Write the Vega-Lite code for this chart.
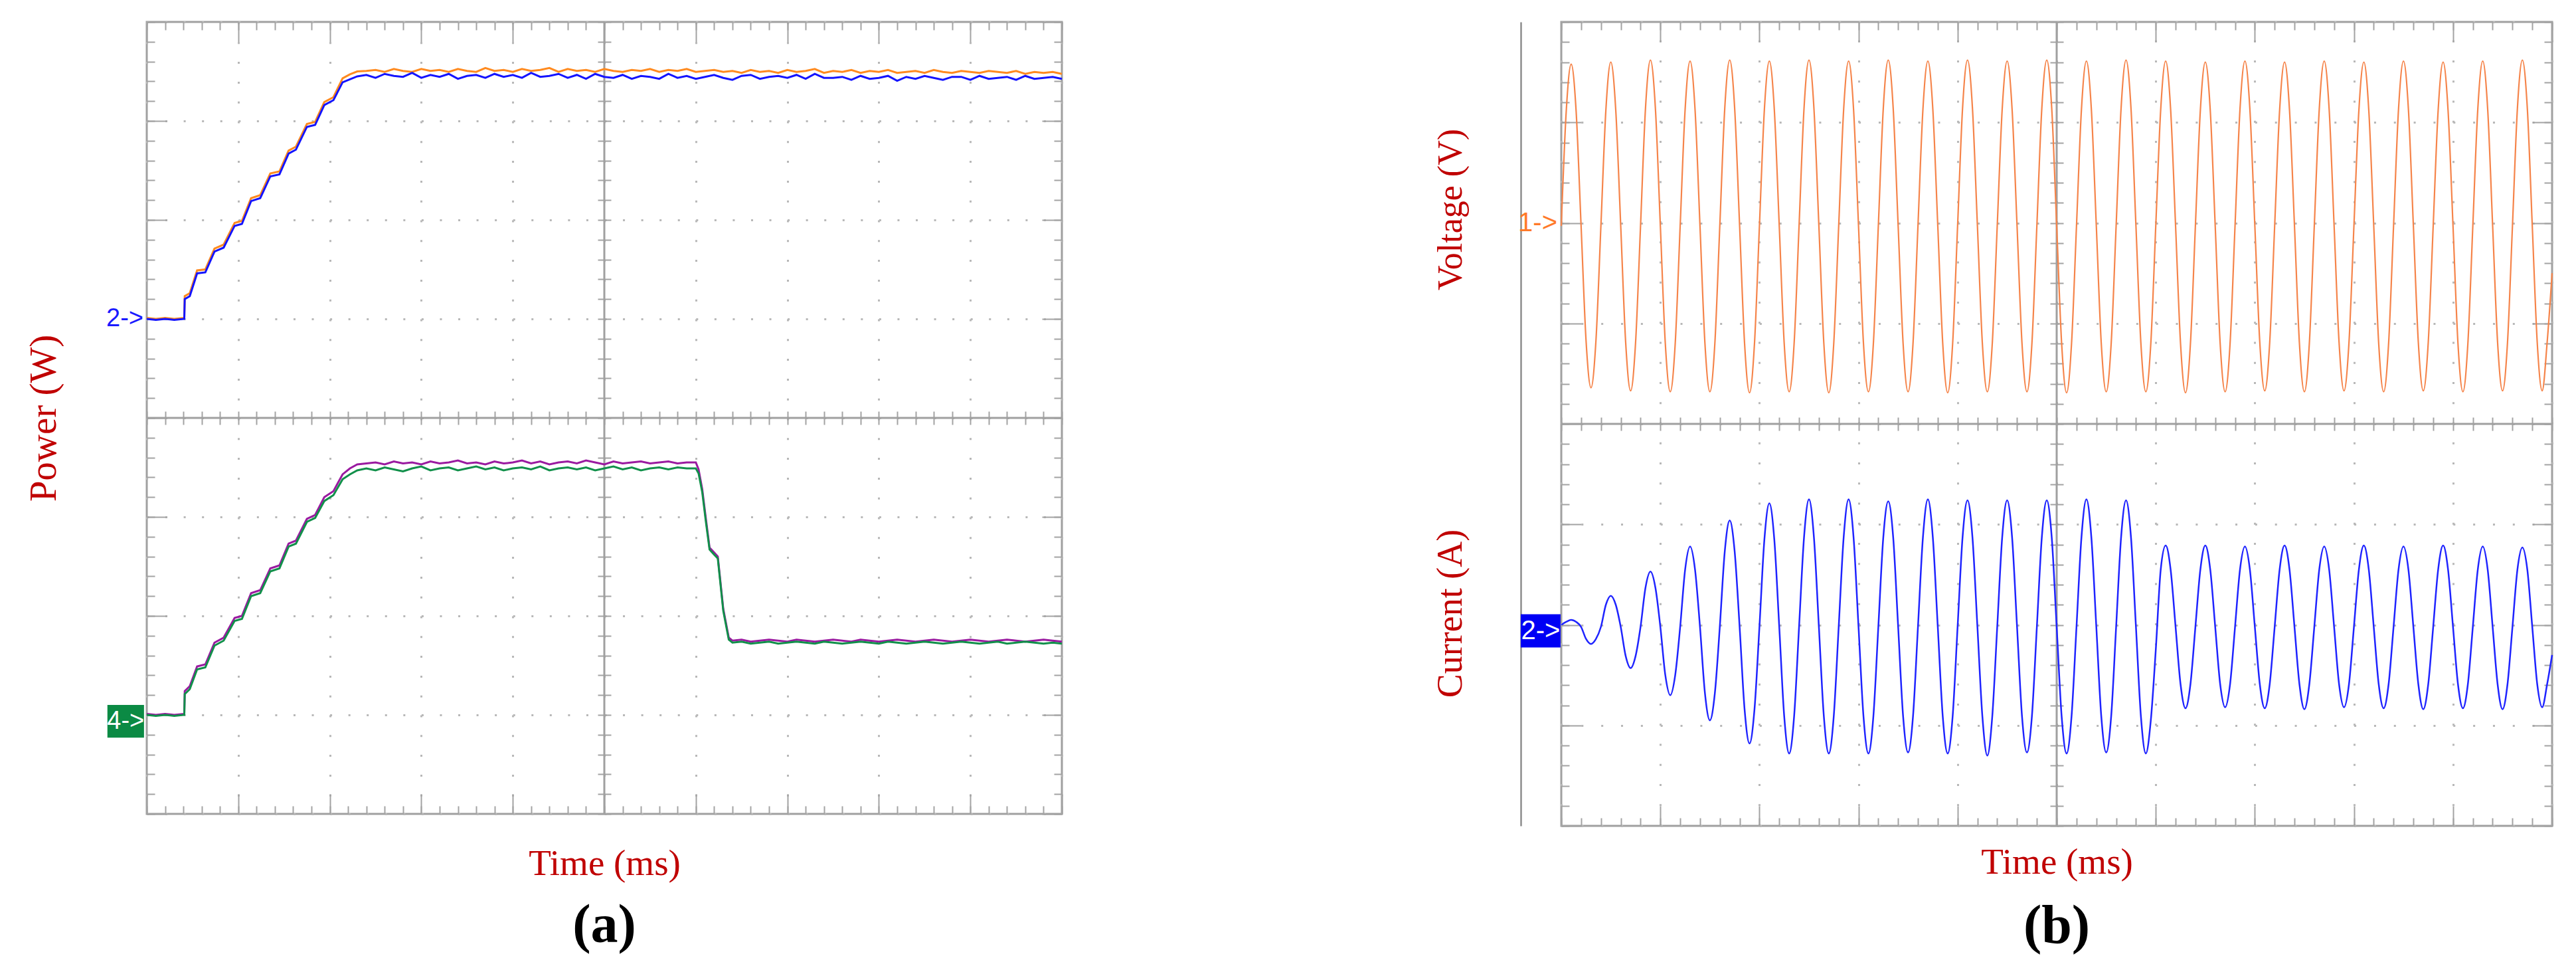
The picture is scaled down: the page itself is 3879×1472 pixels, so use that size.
{
"$schema": "https://vega.github.io/schema/vega-lite/v6.json",
"background": "white",
"padding": {"left": 35, "top": 30, "right": 10, "bottom": 10},
"bounds": "flush",
"spacing": 752,
"config": {
 "view": {"stroke": "#a0a0a0", "strokeWidth": 3},
 "axis": {"labels": false, "domain": false, "grid": false, "ticks": true, "tickColor": "#a3a3a3", "tickWidth": 2, "minExtent": 0, "maxExtent": 0, "titleFont": "Liberation Serif", "titleFontSize": 52, "titleFontWeight": "normal", "titleColor": "#c00000", "gridColor": "#b8b8b8", "gridWidth": 3}
},
"datasets": {
 "p1": [{"t":0,"v":1.01},{"t":0.1,"v":1.0},{"t":0.2,"v":1.01},{"t":0.3,"v":1.0},{"t":0.41,"v":1.01},{"t":0.415,"v":1.23},{"t":0.47,"v":1.26},{"t":0.55,"v":1.49},{"t":0.64,"v":1.5},{"t":0.74,"v":1.71},{"t":0.84,"v":1.75},{"t":0.96,"v":1.97},{"t":1.04,"v":1.99},{"t":1.14,"v":2.22},{"t":1.24,"v":2.25},{"t":1.35,"v":2.47},{"t":1.45,"v":2.49},{"t":1.55,"v":2.7},{"t":1.63,"v":2.74},{"t":1.75,"v":2.97},{"t":1.84,"v":2.99},{"t":1.94,"v":3.19},{"t":2.04,"v":3.24},{"t":2.14,"v":3.43},{"t":2.22,"v":3.47},{"t":2.3,"v":3.5},
  {"t":2.4,"v":3.505},{"t":2.5,"v":3.515},{"t":2.6,"v":3.495},{"t":2.7,"v":3.525},{"t":2.8,"v":3.505},{"t":2.9,"v":3.495},{"t":3.0,"v":3.525},{"t":3.1,"v":3.505},{"t":3.2,"v":3.515},{"t":3.3,"v":3.495},{"t":3.4,"v":3.525},{"t":3.5,"v":3.505},{"t":3.6,"v":3.495},{"t":3.7,"v":3.535},{"t":3.8,"v":3.505},{"t":3.9,"v":3.515},{"t":4.0,"v":3.495},{"t":4.1,"v":3.525},{"t":4.2,"v":3.505},{"t":4.3,"v":3.515},{"t":4.4,"v":3.535},{"t":4.5,"v":3.495},{"t":4.6,"v":3.525},{"t":4.7,"v":3.505},{"t":4.8,"v":3.515},{"t":4.9,"v":3.495},{"t":5.0,"v":3.525},{"t":5.1,"v":3.505},{"t":5.2,"v":3.495},{"t":5.3,"v":3.515},{"t":5.4,"v":3.505},{"t":5.5,"v":3.525},{"t":5.6,"v":3.495},{"t":5.7,"v":3.515},{"t":5.8,"v":3.505},{"t":5.9,"v":3.525},{"t":6.0,"v":3.495},{"t":6.1,"v":3.505},{"t":6.2,"v":3.515},{"t":6.3,"v":3.495},{"t":6.4,"v":3.505},{"t":6.5,"v":3.485},{"t":6.6,"v":3.515},{"t":6.7,"v":3.495},{"t":6.8,"v":3.505},{"t":6.9,"v":3.485},{"t":7.0,"v":3.515},{"t":7.1,"v":3.495},{"t":7.2,"v":3.505},{"t":7.3,"v":3.525},{"t":7.4,"v":3.485},{"t":7.5,"v":3.505},{"t":7.6,"v":3.495},{"t":7.7,"v":3.515},{"t":7.8,"v":3.485},{"t":7.9,"v":3.505},{"t":8.0,"v":3.495},{"t":8.1,"v":3.515},{"t":8.2,"v":3.485},{"t":8.3,"v":3.495},{"t":8.4,"v":3.505},{"t":8.5,"v":3.485},{"t":8.6,"v":3.515},{"t":8.7,"v":3.495},{"t":8.8,"v":3.485},{"t":8.9,"v":3.505},{"t":9.0,"v":3.495},{"t":9.1,"v":3.485},{"t":9.2,"v":3.505},{"t":9.3,"v":3.495},{"t":9.4,"v":3.485},{"t":9.5,"v":3.505},{"t":9.6,"v":3.475},{"t":9.7,"v":3.495},{"t":9.8,"v":3.485},{"t":9.9,"v":3.495},{"t":10.0,"v":3.475}],
 "p2": [{"t":0,"v":1.0},{"t":0.1,"v":0.99},{"t":0.2,"v":1.0},{"t":0.3,"v":0.99},{"t":0.41,"v":1.0},{"t":0.415,"v":1.2},{"t":0.47,"v":1.23},{"t":0.55,"v":1.46},{"t":0.64,"v":1.47},{"t":0.74,"v":1.68},{"t":0.84,"v":1.72},{"t":0.96,"v":1.94},{"t":1.04,"v":1.96},{"t":1.14,"v":2.19},{"t":1.24,"v":2.22},{"t":1.35,"v":2.44},{"t":1.45,"v":2.46},{"t":1.55,"v":2.67},{"t":1.63,"v":2.71},{"t":1.75,"v":2.94},{"t":1.84,"v":2.96},{"t":1.94,"v":3.16},{"t":2.04,"v":3.21},{"t":2.14,"v":3.39},{"t":2.22,"v":3.42},{"t":2.3,"v":3.45},
  {"t":2.4,"v":3.465},{"t":2.5,"v":3.435},{"t":2.6,"v":3.475},{"t":2.7,"v":3.455},{"t":2.8,"v":3.445},{"t":2.9,"v":3.485},{"t":3.0,"v":3.435},{"t":3.1,"v":3.465},{"t":3.2,"v":3.445},{"t":3.3,"v":3.475},{"t":3.4,"v":3.425},{"t":3.5,"v":3.455},{"t":3.6,"v":3.465},{"t":3.7,"v":3.435},{"t":3.8,"v":3.475},{"t":3.9,"v":3.445},{"t":4.0,"v":3.465},{"t":4.1,"v":3.435},{"t":4.2,"v":3.485},{"t":4.3,"v":3.445},{"t":4.4,"v":3.455},{"t":4.5,"v":3.475},{"t":4.6,"v":3.435},{"t":4.7,"v":3.465},{"t":4.8,"v":3.425},{"t":4.9,"v":3.475},{"t":5.0,"v":3.445},{"t":5.1,"v":3.435},{"t":5.2,"v":3.465},{"t":5.3,"v":3.425},{"t":5.4,"v":3.455},{"t":5.5,"v":3.445},{"t":5.6,"v":3.425},{"t":5.7,"v":3.475},{"t":5.8,"v":3.435},{"t":5.9,"v":3.455},{"t":6.0,"v":3.425},{"t":6.1,"v":3.445},{"t":6.2,"v":3.465},{"t":6.3,"v":3.435},{"t":6.4,"v":3.415},{"t":6.5,"v":3.455},{"t":6.6,"v":3.465},{"t":6.7,"v":3.425},{"t":6.8,"v":3.445},{"t":6.9,"v":3.455},{"t":7.0,"v":3.435},{"t":7.1,"v":3.465},{"t":7.2,"v":3.425},{"t":7.3,"v":3.475},{"t":7.4,"v":3.435},{"t":7.5,"v":3.435},{"t":7.6,"v":3.445},{"t":7.7,"v":3.415},{"t":7.8,"v":3.455},{"t":7.9,"v":3.425},{"t":8.0,"v":3.435},{"t":8.1,"v":3.455},{"t":8.2,"v":3.405},{"t":8.3,"v":3.445},{"t":8.4,"v":3.425},{"t":8.5,"v":3.455},{"t":8.6,"v":3.435},{"t":8.7,"v":3.415},{"t":8.8,"v":3.445},{"t":8.9,"v":3.445},{"t":9.0,"v":3.415},{"t":9.1,"v":3.455},{"t":9.2,"v":3.425},{"t":9.3,"v":3.435},{"t":9.4,"v":3.445},{"t":9.5,"v":3.415},{"t":9.6,"v":3.455},{"t":9.7,"v":3.425},{"t":9.8,"v":3.435},{"t":9.9,"v":3.445},{"t":10.0,"v":3.425}],
 "p3": [{"t":0,"v":-2.99},{"t":0.1,"v":-3.0},{"t":0.2,"v":-2.99},{"t":0.3,"v":-3.0},{"t":0.41,"v":-2.99},{"t":0.415,"v":-2.76},{"t":0.47,"v":-2.71},{"t":0.55,"v":-2.51},{"t":0.64,"v":-2.49},{"t":0.74,"v":-2.27},{"t":0.84,"v":-2.22},{"t":0.96,"v":-2.02},{"t":1.04,"v":-2.0},{"t":1.14,"v":-1.77},{"t":1.24,"v":-1.74},{"t":1.35,"v":-1.52},{"t":1.45,"v":-1.49},{"t":1.55,"v":-1.27},{"t":1.63,"v":-1.24},{"t":1.75,"v":-1.02},{"t":1.84,"v":-0.98},{"t":1.94,"v":-0.8},{"t":2.04,"v":-0.74},{"t":2.14,"v":-0.57},{"t":2.22,"v":-0.51},{"t":2.3,"v":-0.47},
  {"t":2.4,"v":-0.46},{"t":2.5,"v":-0.45},{"t":2.6,"v":-0.47},{"t":2.7,"v":-0.44},{"t":2.8,"v":-0.46},{"t":2.9,"v":-0.45},{"t":3.0,"v":-0.47},{"t":3.1,"v":-0.44},{"t":3.2,"v":-0.46},{"t":3.3,"v":-0.45},{"t":3.4,"v":-0.43},{"t":3.5,"v":-0.46},{"t":3.6,"v":-0.45},{"t":3.7,"v":-0.47},{"t":3.8,"v":-0.44},{"t":3.9,"v":-0.46},{"t":4.0,"v":-0.45},{"t":4.1,"v":-0.43},{"t":4.2,"v":-0.46},{"t":4.3,"v":-0.44},{"t":4.4,"v":-0.47},{"t":4.5,"v":-0.45},{"t":4.6,"v":-0.44},{"t":4.7,"v":-0.46},{"t":4.8,"v":-0.43},{"t":4.9,"v":-0.45},{"t":5.0,"v":-0.47},{"t":5.1,"v":-0.44},{"t":5.2,"v":-0.46},{"t":5.3,"v":-0.45},{"t":5.4,"v":-0.44},{"t":5.5,"v":-0.46},{"t":5.6,"v":-0.45},{"t":5.7,"v":-0.44},{"t":5.8,"v":-0.46},{"t":5.9,"v":-0.45},{"t":6.0,"v":-0.45},
  {"t":6.03,"v":-0.52},{"t":6.07,"v":-0.72},{"t":6.11,"v":-1.02},{"t":6.15,"v":-1.31},{"t":6.2,"v":-1.36},{"t":6.24,"v":-1.4},{"t":6.3,"v":-1.93},{"t":6.36,"v":-2.22},
  {"t":6.4,"v":-2.25},{"t":6.5,"v":-2.24},{"t":6.6,"v":-2.26},{"t":6.7,"v":-2.25},{"t":6.8,"v":-2.24},{"t":6.9,"v":-2.25},{"t":7.0,"v":-2.26},{"t":7.1,"v":-2.24},{"t":7.2,"v":-2.25},{"t":7.3,"v":-2.26},{"t":7.4,"v":-2.25},{"t":7.5,"v":-2.24},{"t":7.6,"v":-2.25},{"t":7.7,"v":-2.26},{"t":7.8,"v":-2.24},{"t":7.9,"v":-2.25},{"t":8.0,"v":-2.26},{"t":8.1,"v":-2.25},{"t":8.2,"v":-2.24},{"t":8.3,"v":-2.25},{"t":8.4,"v":-2.26},{"t":8.5,"v":-2.25},{"t":8.6,"v":-2.24},{"t":8.7,"v":-2.25},{"t":8.8,"v":-2.26},{"t":8.9,"v":-2.25},{"t":9.0,"v":-2.24},{"t":9.1,"v":-2.25},{"t":9.2,"v":-2.26},{"t":9.3,"v":-2.25},{"t":9.4,"v":-2.24},{"t":9.5,"v":-2.25},{"t":9.6,"v":-2.26},{"t":9.7,"v":-2.25},{"t":9.8,"v":-2.24},{"t":9.9,"v":-2.25},{"t":10.0,"v":-2.26}],
 "p4": [{"t":0,"v":-3.0},{"t":0.1,"v":-3.01},{"t":0.2,"v":-3.0},{"t":0.3,"v":-3.01},{"t":0.41,"v":-3.0},{"t":0.415,"v":-2.79},{"t":0.47,"v":-2.74},{"t":0.55,"v":-2.54},{"t":0.64,"v":-2.52},{"t":0.74,"v":-2.3},{"t":0.84,"v":-2.25},{"t":0.96,"v":-2.05},{"t":1.04,"v":-2.03},{"t":1.14,"v":-1.8},{"t":1.24,"v":-1.77},{"t":1.35,"v":-1.55},{"t":1.45,"v":-1.52},{"t":1.55,"v":-1.3},{"t":1.63,"v":-1.27},{"t":1.75,"v":-1.05},{"t":1.84,"v":-1.01},{"t":1.94,"v":-0.84},{"t":2.04,"v":-0.78},{"t":2.14,"v":-0.62},{"t":2.22,"v":-0.57},{"t":2.3,"v":-0.53},
  {"t":2.4,"v":-0.51},{"t":2.5,"v":-0.53},{"t":2.6,"v":-0.5},{"t":2.7,"v":-0.52},{"t":2.8,"v":-0.54},{"t":2.9,"v":-0.51},{"t":3.0,"v":-0.49},{"t":3.1,"v":-0.53},{"t":3.2,"v":-0.51},{"t":3.3,"v":-0.5},{"t":3.4,"v":-0.53},{"t":3.5,"v":-0.51},{"t":3.6,"v":-0.49},{"t":3.7,"v":-0.52},{"t":3.8,"v":-0.5},{"t":3.9,"v":-0.53},{"t":4.0,"v":-0.51},{"t":4.1,"v":-0.5},{"t":4.2,"v":-0.52},{"t":4.3,"v":-0.49},{"t":4.4,"v":-0.53},{"t":4.5,"v":-0.51},{"t":4.6,"v":-0.5},{"t":4.7,"v":-0.52},{"t":4.8,"v":-0.5},{"t":4.9,"v":-0.53},{"t":5.0,"v":-0.51},{"t":5.1,"v":-0.49},{"t":5.2,"v":-0.52},{"t":5.3,"v":-0.5},{"t":5.4,"v":-0.53},{"t":5.5,"v":-0.51},{"t":5.6,"v":-0.5},{"t":5.7,"v":-0.52},{"t":5.8,"v":-0.5},{"t":5.9,"v":-0.51},{"t":6.0,"v":-0.51},
  {"t":6.03,"v":-0.56},{"t":6.07,"v":-0.75},{"t":6.11,"v":-1.05},{"t":6.15,"v":-1.33},{"t":6.2,"v":-1.38},{"t":6.24,"v":-1.42},{"t":6.3,"v":-1.95},{"t":6.36,"v":-2.24},
  {"t":6.4,"v":-2.27},{"t":6.5,"v":-2.26},{"t":6.6,"v":-2.28},{"t":6.7,"v":-2.27},{"t":6.8,"v":-2.26},{"t":6.9,"v":-2.28},{"t":7.0,"v":-2.27},{"t":7.1,"v":-2.26},{"t":7.2,"v":-2.27},{"t":7.3,"v":-2.28},{"t":7.4,"v":-2.26},{"t":7.5,"v":-2.27},{"t":7.6,"v":-2.28},{"t":7.7,"v":-2.27},{"t":7.8,"v":-2.26},{"t":7.9,"v":-2.27},{"t":8.0,"v":-2.28},{"t":8.1,"v":-2.26},{"t":8.2,"v":-2.27},{"t":8.3,"v":-2.28},{"t":8.4,"v":-2.27},{"t":8.5,"v":-2.26},{"t":8.6,"v":-2.27},{"t":8.7,"v":-2.28},{"t":8.8,"v":-2.27},{"t":8.9,"v":-2.26},{"t":9.0,"v":-2.27},{"t":9.1,"v":-2.28},{"t":9.2,"v":-2.27},{"t":9.3,"v":-2.26},{"t":9.4,"v":-2.28},{"t":9.5,"v":-2.27},{"t":9.6,"v":-2.26},{"t":9.7,"v":-2.27},{"t":9.8,"v":-2.28},{"t":9.9,"v":-2.27},{"t":10.0,"v":-2.28}],
 "volt": [{"t":0,"v":1.97},{"t":0.05,"v":3.11},{"t":0.1,"v":3.58},{"t":0.15,"v":3.11},{"t":0.2,"v":1.97},{"t":0.25,"v":0.83},{"t":0.3,"v":0.36},{"t":0.35,"v":0.83},
  {"t":0.4,"v":1.97},{"t":0.45,"v":3.12},{"t":0.5,"v":3.6},{"t":0.55,"v":3.12},{"t":0.6,"v":1.97},{"t":0.65,"v":0.81},{"t":0.7,"v":0.33},{"t":0.75,"v":0.81},
  {"t":0.8,"v":1.97},{"t":0.85,"v":3.14},{"t":0.9,"v":3.62},{"t":0.95,"v":3.14},{"t":1.0,"v":1.97},{"t":1.05,"v":0.8},{"t":1.1,"v":0.32},{"t":1.15,"v":0.8},
  {"t":1.2,"v":1.97},{"t":1.25,"v":3.13},{"t":1.3,"v":3.61},{"t":1.35,"v":3.13},{"t":1.4,"v":1.97},{"t":1.45,"v":0.8},{"t":1.5,"v":0.32},{"t":1.55,"v":0.8},
  {"t":1.6,"v":1.97},{"t":1.65,"v":3.14},{"t":1.7,"v":3.62},{"t":1.75,"v":3.14},{"t":1.8,"v":1.97},{"t":1.85,"v":0.8},{"t":1.9,"v":0.31},{"t":1.95,"v":0.8},
  {"t":2.0,"v":1.97},{"t":2.05,"v":3.13},{"t":2.1,"v":3.61},{"t":2.15,"v":3.13},{"t":2.2,"v":1.97},{"t":2.25,"v":0.8},{"t":2.3,"v":0.32},{"t":2.35,"v":0.8},
  {"t":2.4,"v":1.97},{"t":2.45,"v":3.14},{"t":2.5,"v":3.62},{"t":2.55,"v":3.14},{"t":2.6,"v":1.97},{"t":2.65,"v":0.8},{"t":2.7,"v":0.31},{"t":2.75,"v":0.8},
  {"t":2.8,"v":1.97},{"t":2.85,"v":3.13},{"t":2.9,"v":3.61},{"t":2.95,"v":3.13},{"t":3.0,"v":1.97},{"t":3.05,"v":0.8},{"t":3.1,"v":0.32},{"t":3.15,"v":0.8},
  {"t":3.2,"v":1.97},{"t":3.25,"v":3.14},{"t":3.3,"v":3.62},{"t":3.35,"v":3.14},{"t":3.4,"v":1.97},{"t":3.45,"v":0.8},{"t":3.5,"v":0.32},{"t":3.55,"v":0.8},
  {"t":3.6,"v":1.97},{"t":3.65,"v":3.13},{"t":3.7,"v":3.61},{"t":3.75,"v":3.13},{"t":3.8,"v":1.97},{"t":3.85,"v":0.8},{"t":3.9,"v":0.31},{"t":3.95,"v":0.8},
  {"t":4.0,"v":1.97},{"t":4.05,"v":3.14},{"t":4.1,"v":3.62},{"t":4.15,"v":3.14},{"t":4.2,"v":1.97},{"t":4.25,"v":0.8},{"t":4.3,"v":0.32},{"t":4.35,"v":0.8},
  {"t":4.4,"v":1.97},{"t":4.45,"v":3.13},{"t":4.5,"v":3.61},{"t":4.55,"v":3.13},{"t":4.6,"v":1.97},{"t":4.65,"v":0.8},{"t":4.7,"v":0.32},{"t":4.75,"v":0.8},
  {"t":4.8,"v":1.97},{"t":4.85,"v":3.14},{"t":4.9,"v":3.62},{"t":4.95,"v":3.14},{"t":5.0,"v":1.97},{"t":5.05,"v":0.8},{"t":5.1,"v":0.31},{"t":5.15,"v":0.8},
  {"t":5.2,"v":1.97},{"t":5.25,"v":3.13},{"t":5.3,"v":3.61},{"t":5.35,"v":3.13},{"t":5.4,"v":1.97},{"t":5.45,"v":0.8},{"t":5.5,"v":0.32},{"t":5.55,"v":0.8},
  {"t":5.6,"v":1.97},{"t":5.65,"v":3.14},{"t":5.7,"v":3.62},{"t":5.75,"v":3.14},{"t":5.8,"v":1.97},{"t":5.85,"v":0.8},{"t":5.9,"v":0.32},{"t":5.95,"v":0.8},
  {"t":6.0,"v":1.97},{"t":6.05,"v":3.13},{"t":6.1,"v":3.61},{"t":6.15,"v":3.13},{"t":6.2,"v":1.97},{"t":6.25,"v":0.8},{"t":6.3,"v":0.31},{"t":6.35,"v":0.8},
  {"t":6.4,"v":1.97},{"t":6.45,"v":3.12},{"t":6.5,"v":3.6},{"t":6.55,"v":3.12},{"t":6.6,"v":1.97},{"t":6.65,"v":0.8},{"t":6.7,"v":0.32},{"t":6.75,"v":0.8},
  {"t":6.8,"v":1.97},{"t":6.85,"v":3.13},{"t":6.9,"v":3.61},{"t":6.95,"v":3.13},{"t":7.0,"v":1.97},{"t":7.05,"v":0.81},{"t":7.1,"v":0.33},{"t":7.15,"v":0.81},
  {"t":7.2,"v":1.97},{"t":7.25,"v":3.12},{"t":7.3,"v":3.6},{"t":7.35,"v":3.12},{"t":7.4,"v":1.97},{"t":7.45,"v":0.8},{"t":7.5,"v":0.32},{"t":7.55,"v":0.8},
  {"t":7.6,"v":1.97},{"t":7.65,"v":3.13},{"t":7.7,"v":3.61},{"t":7.75,"v":3.13},{"t":7.8,"v":1.97},{"t":7.85,"v":0.81},{"t":7.9,"v":0.33},{"t":7.95,"v":0.81},
  {"t":8.0,"v":1.97},{"t":8.05,"v":3.12},{"t":8.1,"v":3.6},{"t":8.15,"v":3.12},{"t":8.2,"v":1.97},{"t":8.25,"v":0.8},{"t":8.3,"v":0.32},{"t":8.35,"v":0.8},
  {"t":8.4,"v":1.97},{"t":8.45,"v":3.13},{"t":8.5,"v":3.61},{"t":8.55,"v":3.13},{"t":8.6,"v":1.97},{"t":8.65,"v":0.81},{"t":8.7,"v":0.33},{"t":8.75,"v":0.81},
  {"t":8.8,"v":1.97},{"t":8.85,"v":3.12},{"t":8.9,"v":3.6},{"t":8.95,"v":3.12},{"t":9.0,"v":1.97},{"t":9.05,"v":0.8},{"t":9.1,"v":0.32},{"t":9.15,"v":0.8},
  {"t":9.2,"v":1.97},{"t":9.25,"v":3.13},{"t":9.3,"v":3.61},{"t":9.35,"v":3.13},{"t":9.4,"v":1.97},{"t":9.45,"v":0.81},{"t":9.5,"v":0.33},{"t":9.55,"v":0.81},
  {"t":9.6,"v":1.97},{"t":9.65,"v":3.14},{"t":9.7,"v":3.62},{"t":9.75,"v":3.14},{"t":9.8,"v":1.97},{"t":9.85,"v":0.81},{"t":9.9,"v":0.33},{"t":9.95,"v":0.81},
  {"t":10.0,"v":1.5}],
 "curr": [{"t":0,"v":-2.0},{"t":0.05,"v":-1.97},{"t":0.1,"v":-1.95},{"t":0.15,"v":-1.97},{"t":0.2,"v":-2.02},{"t":0.25,"v":-2.14},{"t":0.3,"v":-2.19},{"t":0.35,"v":-2.14},
  {"t":0.4,"v":-2.02},{"t":0.45,"v":-1.8},{"t":0.5,"v":-1.71},{"t":0.55,"v":-1.8},{"t":0.6,"v":-2.02},{"t":0.65,"v":-2.31},{"t":0.7,"v":-2.43},{"t":0.75,"v":-2.31},
  {"t":0.8,"v":-2.02},{"t":0.85,"v":-1.63},{"t":0.9,"v":-1.47},{"t":0.95,"v":-1.63},{"t":1.0,"v":-2.02},{"t":1.05,"v":-2.5},{"t":1.1,"v":-2.7},{"t":1.15,"v":-2.5},
  {"t":1.2,"v":-2.02},{"t":1.25,"v":-1.45},{"t":1.3,"v":-1.22},{"t":1.35,"v":-1.45},{"t":1.4,"v":-2.02},{"t":1.45,"v":-2.68},{"t":1.5,"v":-2.95},{"t":1.55,"v":-2.68},
  {"t":1.6,"v":-2.02},{"t":1.65,"v":-1.27},{"t":1.7,"v":-0.96},{"t":1.75,"v":-1.27},{"t":1.8,"v":-2.02},{"t":1.85,"v":-2.84},{"t":1.9,"v":-3.18},{"t":1.95,"v":-2.84},
  {"t":2.0,"v":-2.02},{"t":2.05,"v":-1.15},{"t":2.1,"v":-0.79},{"t":2.15,"v":-1.15},{"t":2.2,"v":-2.02},{"t":2.25,"v":-2.91},{"t":2.3,"v":-3.28},{"t":2.35,"v":-2.91},
  {"t":2.4,"v":-2.02},{"t":2.45,"v":-1.13},{"t":2.5,"v":-0.75},{"t":2.55,"v":-1.13},{"t":2.6,"v":-2.02},{"t":2.65,"v":-2.91},{"t":2.7,"v":-3.28},{"t":2.75,"v":-2.91},
  {"t":2.8,"v":-2.02},{"t":2.85,"v":-1.13},{"t":2.9,"v":-0.75},{"t":2.95,"v":-1.13},{"t":3.0,"v":-2.02},{"t":3.05,"v":-2.91},{"t":3.1,"v":-3.28},{"t":3.15,"v":-2.91},
  {"t":3.2,"v":-2.02},{"t":3.25,"v":-1.13},{"t":3.3,"v":-0.77},{"t":3.35,"v":-1.13},{"t":3.4,"v":-2.02},{"t":3.45,"v":-2.91},{"t":3.5,"v":-3.27},{"t":3.55,"v":-2.91},
  {"t":3.6,"v":-2.02},{"t":3.65,"v":-1.13},{"t":3.7,"v":-0.75},{"t":3.75,"v":-1.13},{"t":3.8,"v":-2.02},{"t":3.85,"v":-2.91},{"t":3.9,"v":-3.28},{"t":3.95,"v":-2.91},
  {"t":4.0,"v":-2.02},{"t":4.05,"v":-1.13},{"t":4.1,"v":-0.76},{"t":4.15,"v":-1.13},{"t":4.2,"v":-2.02},{"t":4.25,"v":-2.91},{"t":4.3,"v":-3.3},{"t":4.35,"v":-2.91},
  {"t":4.4,"v":-2.02},{"t":4.45,"v":-1.13},{"t":4.5,"v":-0.76},{"t":4.55,"v":-1.13},{"t":4.6,"v":-2.02},{"t":4.65,"v":-2.91},{"t":4.7,"v":-3.27},{"t":4.75,"v":-2.91},
  {"t":4.8,"v":-2.02},{"t":4.85,"v":-1.13},{"t":4.9,"v":-0.76},{"t":4.95,"v":-1.13},{"t":5.0,"v":-2.02},{"t":5.05,"v":-2.91},{"t":5.1,"v":-3.28},{"t":5.15,"v":-2.91},
  {"t":5.2,"v":-2.02},{"t":5.25,"v":-1.13},{"t":5.3,"v":-0.75},{"t":5.35,"v":-1.13},{"t":5.4,"v":-2.02},{"t":5.45,"v":-2.91},{"t":5.5,"v":-3.27},{"t":5.55,"v":-2.91},
  {"t":5.6,"v":-2.02},{"t":5.65,"v":-1.13},{"t":5.7,"v":-0.76},{"t":5.75,"v":-1.13},{"t":5.8,"v":-2.02},{"t":5.85,"v":-2.91},{"t":5.9,"v":-3.28},{"t":5.95,"v":-2.95},
  {"t":6.0,"v":-2.25},{"t":6.05,"v":-1.45},{"t":6.1,"v":-1.21},{"t":6.15,"v":-1.45},{"t":6.2,"v":-2.02},{"t":6.25,"v":-2.59},{"t":6.3,"v":-2.83},{"t":6.35,"v":-2.59},
  {"t":6.4,"v":-2.02},{"t":6.45,"v":-1.45},{"t":6.5,"v":-1.21},{"t":6.55,"v":-1.45},{"t":6.6,"v":-2.02},{"t":6.65,"v":-2.59},{"t":6.7,"v":-2.82},{"t":6.75,"v":-2.59},
  {"t":6.8,"v":-2.02},{"t":6.85,"v":-1.45},{"t":6.9,"v":-1.22},{"t":6.95,"v":-1.45},{"t":7.0,"v":-2.02},{"t":7.05,"v":-2.59},{"t":7.1,"v":-2.83},{"t":7.15,"v":-2.59},
  {"t":7.2,"v":-2.02},{"t":7.25,"v":-1.45},{"t":7.3,"v":-1.21},{"t":7.35,"v":-1.45},{"t":7.4,"v":-2.02},{"t":7.45,"v":-2.59},{"t":7.5,"v":-2.84},{"t":7.55,"v":-2.59},
  {"t":7.6,"v":-2.02},{"t":7.65,"v":-1.45},{"t":7.7,"v":-1.22},{"t":7.75,"v":-1.45},{"t":7.8,"v":-2.02},{"t":7.85,"v":-2.59},{"t":7.9,"v":-2.82},{"t":7.95,"v":-2.59},
  {"t":8.0,"v":-2.02},{"t":8.05,"v":-1.45},{"t":8.1,"v":-1.21},{"t":8.15,"v":-1.45},{"t":8.2,"v":-2.02},{"t":8.25,"v":-2.59},{"t":8.3,"v":-2.83},{"t":8.35,"v":-2.59},
  {"t":8.4,"v":-2.02},{"t":8.45,"v":-1.45},{"t":8.5,"v":-1.22},{"t":8.55,"v":-1.45},{"t":8.6,"v":-2.02},{"t":8.65,"v":-2.59},{"t":8.7,"v":-2.84},{"t":8.75,"v":-2.59},
  {"t":8.8,"v":-2.02},{"t":8.85,"v":-1.45},{"t":8.9,"v":-1.21},{"t":8.95,"v":-1.45},{"t":9.0,"v":-2.02},{"t":9.05,"v":-2.59},{"t":9.1,"v":-2.83},{"t":9.15,"v":-2.59},
  {"t":9.2,"v":-2.02},{"t":9.25,"v":-1.45},{"t":9.3,"v":-1.22},{"t":9.35,"v":-1.45},{"t":9.4,"v":-2.02},{"t":9.45,"v":-2.59},{"t":9.5,"v":-2.84},{"t":9.55,"v":-2.59},
  {"t":9.6,"v":-2.02},{"t":9.65,"v":-1.45},{"t":9.7,"v":-1.23},{"t":9.75,"v":-1.45},{"t":9.8,"v":-2.02},{"t":9.85,"v":-2.59},{"t":9.9,"v":-2.82},{"t":9.95,"v":-2.59},
  {"t":10.0,"v":-2.3}]
},
"hconcat": [
 {
  "width": 1378, "height": 1192,
  "title": {"text": "(a)", "orient": "bottom", "anchor": "middle", "offset": 26, "font": "Liberation Serif", "fontSize": 82, "fontWeight": "bold", "color": "#000000"},
  "resolve": {"axis": {"x": "independent", "y": "independent"}},
  "layer": [
   {"data": {"values": [{}]}, "mark": {"type": "rule", "color": "#a0a0a0", "strokeWidth": 3},
    "encoding": {"x": {"datum": 5, "type": "quantitative", "scale": {"domain": [0,10], "nice": false, "zero": false},
      "axis": {"orient": "bottom", "offset": -606, "tickSize": 20, "title": null, "values": [0,0.2,0.4,0.6,0.8,1,1.2,1.4,1.6,1.8,2,2.2,2.4,2.6,2.8,3,3.2,3.4,3.6,3.8,4,4.2,4.4,4.6,4.8,5,5.2,5.4,5.6,5.8,6,6.2,6.4,6.6,6.8,7,7.2,7.4,7.6,7.8,8,8.2,8.4,8.6,8.8,9,9.2,9.4,9.6,9.8,10]}},
     "y": {"datum": -4, "type": "quantitative", "scale": {"domain": [-4,4], "nice": false, "zero": false}, "axis": null},
     "y2": {"datum": 4}}},
   {"data": {"values": [{}]}, "mark": {"type": "rule", "color": "#a0a0a0", "strokeWidth": 3},
    "encoding": {"y": {"datum": 0, "type": "quantitative", "scale": {"domain": [-4,4], "nice": false, "zero": false},
      "axis": {"orient": "left", "offset": -699, "tickSize": 20, "title": null, "values": [-4,-3.8,-3.6,-3.4,-3.2,-3,-2.8,-2.6,-2.4,-2.2,-2,-1.8,-1.6,-1.4,-1.2,-1,-0.8,-0.6,-0.4,-0.2,0,0.2,0.4,0.6,0.8,1,1.2,1.4,1.6,1.8,2,2.2,2.4,2.6,2.8,3,3.2,3.4,3.6,3.8,4]}},
     "x": {"datum": 0, "type": "quantitative", "scale": {"domain": [0,10], "nice": false, "zero": false}, "axis": null},
     "x2": {"datum": 10}}},
   {"data": {"name": "p3"}, "mark": {"type": "line", "color": "#9a1aa0", "strokeWidth": 3},
    "encoding": {"x": {"field": "t", "type": "quantitative", "scale": {"domain": [0,10], "nice": false, "zero": false},
      "axis": {"orient": "bottom", "values": [0,1,2,3,4,5,6,7,8,9,10], "tickSize": -30, "grid": true, "gridDash": [3, 26.8], "title": null}},
     "y": {"field": "v", "type": "quantitative", "scale": {"domain": [-4,4], "nice": false, "zero": false},
      "axis": {"orient": "left", "values": [-4,-3,-2,-1,0,1,2,3,4], "tickSize": -30, "grid": true, "gridDash": [3, 24.56], "title": null}}}},
   {"data": {"name": "p4"}, "mark": {"type": "line", "color": "#11904a", "strokeWidth": 3},
    "encoding": {"x": {"field": "t", "type": "quantitative", "scale": {"domain": [0,10], "nice": false, "zero": false},
      "axis": {"orient": "top", "values": [0,1,2,3,4,5,6,7,8,9,10], "tickSize": -30, "title": null}},
     "y": {"field": "v", "type": "quantitative", "scale": {"domain": [-4,4], "nice": false, "zero": false},
      "axis": {"orient": "right", "values": [-4,-3,-2,-1,0,1,2,3,4], "tickSize": -30, "title": null}}}},
   {"data": {"name": "p1"}, "mark": {"type": "line", "color": "#ff8a1f", "strokeWidth": 3},
    "encoding": {"x": {"field": "t", "type": "quantitative", "scale": {"domain": [0,10], "nice": false, "zero": false},
      "axis": {"orient": "bottom", "tickSize": -12, "title": "Time (ms)", "titleFontSize": 55, "titlePadding": 48, "values": [0,0.2,0.4,0.6,0.8,1,1.2,1.4,1.6,1.8,2,2.2,2.4,2.6,2.8,3,3.2,3.4,3.6,3.8,4,4.2,4.4,4.6,4.8,5,5.2,5.4,5.6,5.8,6,6.2,6.4,6.6,6.8,7,7.2,7.4,7.6,7.8,8,8.2,8.4,8.6,8.8,9,9.2,9.4,9.6,9.8,10]}},
     "y": {"field": "v", "type": "quantitative", "scale": {"domain": [-4,4], "nice": false, "zero": false},
      "axis": {"orient": "left", "tickSize": -12, "title": "Power (W)", "titleFontSize": 57, "titlePadding": 126, "values": [-4,-3.8,-3.6,-3.4,-3.2,-3,-2.8,-2.6,-2.4,-2.2,-2,-1.8,-1.6,-1.4,-1.2,-1,-0.8,-0.6,-0.4,-0.2,0,0.2,0.4,0.6,0.8,1,1.2,1.4,1.6,1.8,2,2.2,2.4,2.6,2.8,3,3.2,3.4,3.6,3.8,4]}}}},
   {"data": {"name": "p2"}, "mark": {"type": "line", "color": "#1414ff", "strokeWidth": 3},
    "encoding": {"x": {"field": "t", "type": "quantitative", "scale": {"domain": [0,10], "nice": false, "zero": false},
      "axis": {"orient": "top", "tickSize": -12, "title": null, "values": [0,0.2,0.4,0.6,0.8,1,1.2,1.4,1.6,1.8,2,2.2,2.4,2.6,2.8,3,3.2,3.4,3.6,3.8,4,4.2,4.4,4.6,4.8,5,5.2,5.4,5.6,5.8,6,6.2,6.4,6.6,6.8,7,7.2,7.4,7.6,7.8,8,8.2,8.4,8.6,8.8,9,9.2,9.4,9.6,9.8,10]}},
     "y": {"field": "v", "type": "quantitative", "scale": {"domain": [-4,4], "nice": false, "zero": false},
      "axis": {"orient": "right", "tickSize": -12, "title": null, "values": [-4,-3.8,-3.6,-3.4,-3.2,-3,-2.8,-2.6,-2.4,-2.2,-2,-1.8,-1.6,-1.4,-1.2,-1,-0.8,-0.6,-0.4,-0.2,0,0.2,0.4,0.6,0.8,1,1.2,1.4,1.6,1.8,2,2.2,2.4,2.6,2.8,3,3.2,3.4,3.6,3.8,4]}}}},
   {"data": {"values": [{}]}, "mark": {"type": "text", "align": "right", "baseline": "middle", "dx": -5, "font": "Liberation Sans", "fontSize": 38, "color": "#1a1aff", "text": "2->"},
    "encoding": {"x": {"datum": 0, "type": "quantitative", "scale": {"domain": [0,10], "nice": false, "zero": false}, "axis": null},
     "y": {"datum": 1, "type": "quantitative", "scale": {"domain": [-4,4], "nice": false, "zero": false}, "axis": null}}},
   {"data": {"values": [{}]}, "mark": {"type": "rect", "color": "#0b8a44"},
    "encoding": {"x": {"datum": -0.43, "type": "quantitative", "scale": {"domain": [0,10], "nice": false, "zero": false}, "axis": null}, "x2": {"datum": -0.03},
     "y": {"datum": -2.9, "type": "quantitative", "scale": {"domain": [-4,4], "nice": false, "zero": false}, "axis": null}, "y2": {"datum": -3.23}}},
   {"data": {"values": [{}]}, "mark": {"type": "text", "align": "center", "baseline": "middle", "font": "Liberation Sans", "fontSize": 38, "color": "#ffffff", "text": "4->"},
    "encoding": {"x": {"datum": -0.23, "type": "quantitative", "scale": {"domain": [0,10], "nice": false, "zero": false}, "axis": null},
     "y": {"datum": -3.07, "type": "quantitative", "scale": {"domain": [-4,4], "nice": false, "zero": false}, "axis": null}}}
  ]
 },
 {
  "width": 1492, "height": 1210,
  "title": {"text": "(b)", "orient": "bottom", "anchor": "middle", "offset": 29, "font": "Liberation Serif", "fontSize": 82, "fontWeight": "bold", "color": "#000000"},
  "resolve": {"axis": {"x": "independent", "y": "independent"}},
  "layer": [
   {"data": {"values": [{}]}, "mark": {"type": "rule", "color": "#a0a0a0", "strokeWidth": 3},
    "encoding": {"x": {"datum": 5, "type": "quantitative", "scale": {"domain": [0,10], "nice": false, "zero": false},
      "axis": {"orient": "bottom", "offset": -615, "tickSize": 20, "title": null, "values": [0,0.2,0.4,0.6,0.8,1,1.2,1.4,1.6,1.8,2,2.2,2.4,2.6,2.8,3,3.2,3.4,3.6,3.8,4,4.2,4.4,4.6,4.8,5,5.2,5.4,5.6,5.8,6,6.2,6.4,6.6,6.8,7,7.2,7.4,7.6,7.8,8,8.2,8.4,8.6,8.8,9,9.2,9.4,9.6,9.8,10]}},
     "y": {"datum": -4, "type": "quantitative", "scale": {"domain": [-4,4], "nice": false, "zero": false}, "axis": null},
     "y2": {"datum": 4}}},
   {"data": {"values": [{}]}, "mark": {"type": "rule", "color": "#a0a0a0", "strokeWidth": 3},
    "encoding": {"y": {"datum": 0, "type": "quantitative", "scale": {"domain": [-4,4], "nice": false, "zero": false},
      "axis": {"orient": "left", "offset": -756, "tickSize": 20, "title": null, "values": [-4,-3.8,-3.6,-3.4,-3.2,-3,-2.8,-2.6,-2.4,-2.2,-2,-1.8,-1.6,-1.4,-1.2,-1,-0.8,-0.6,-0.4,-0.2,0,0.2,0.4,0.6,0.8,1,1.2,1.4,1.6,1.8,2,2.2,2.4,2.6,2.8,3,3.2,3.4,3.6,3.8,4]}},
     "x": {"datum": 0, "type": "quantitative", "scale": {"domain": [0,10], "nice": false, "zero": false}, "axis": null},
     "x2": {"datum": 10}}},
   {"data": {"values": [{}]}, "mark": {"type": "point", "opacity": 0},
    "encoding": {"x": {"datum": 0, "type": "quantitative", "scale": {"domain": [0,10], "nice": false, "zero": false},
      "axis": {"orient": "top", "values": [0,1,2,3,4,5,6,7,8,9,10], "tickSize": -30, "grid": true, "gridDash": [3, 27.25], "title": null}},
     "y": {"datum": 0, "type": "quantitative", "scale": {"domain": [-4,4], "nice": false, "zero": false},
      "axis": {"orient": "left", "values": [-4,-3,-2,-1,0,1,2,3,4], "tickSize": -30, "grid": true, "gridDash": [3, 26.84], "title": null}}}},
   {"data": {"values": [{}]}, "mark": {"type": "point", "opacity": 0},
    "encoding": {"x": {"datum": 0, "type": "quantitative", "scale": {"domain": [0,10], "nice": false, "zero": false},
      "axis": {"orient": "bottom", "values": [0,1,2,3,4,5,6,7,8,9,10], "tickSize": -30, "title": null}},
     "y": {"datum": 0, "type": "quantitative", "scale": {"domain": [-4,4], "nice": false, "zero": false},
      "axis": {"orient": "right", "values": [-4,-3,-2,-1,0,1,2,3,4], "tickSize": -30, "title": null}}}},
   {"data": {"values": [{}]}, "mark": {"type": "point", "opacity": 0},
    "encoding": {"x": {"datum": 0, "type": "quantitative", "scale": {"domain": [0,10], "nice": false, "zero": false}, "axis": null},
     "y": {"datum": 0, "type": "quantitative", "scale": {"domain": [-4,4], "nice": false, "zero": false},
      "axis": {"orient": "left", "offset": 61, "domain": true, "domainColor": "#8c8c8c", "domainWidth": 2.5, "ticks": false, "title": null}}}},
   {"data": {"values": [{}]}, "mark": {"type": "point", "opacity": 0},
    "encoding": {"x": {"datum": 0, "type": "quantitative", "scale": {"domain": [0,10], "nice": false, "zero": false}, "axis": null},
     "y": {"datum": 0, "type": "quantitative", "scale": {"domain": [-4,4], "nice": false, "zero": false},
      "axis": {"orient": "left", "ticks": false, "title": "Current (A)", "titleFontSize": 54, "titleX": -140, "titleY": 890, "titleAngle": -90, "titleBaseline": "bottom", "titleAlign": "center"}}}},
   {"data": {"name": "volt"}, "mark": {"type": "line", "color": "#f5844a", "strokeWidth": 2.2, "interpolate": "monotone"},
    "encoding": {"x": {"field": "t", "type": "quantitative", "scale": {"domain": [0,10], "nice": false, "zero": false},
      "axis": {"orient": "top", "tickSize": -12, "title": null, "values": [0,0.2,0.4,0.6,0.8,1,1.2,1.4,1.6,1.8,2,2.2,2.4,2.6,2.8,3,3.2,3.4,3.6,3.8,4,4.2,4.4,4.6,4.8,5,5.2,5.4,5.6,5.8,6,6.2,6.4,6.6,6.8,7,7.2,7.4,7.6,7.8,8,8.2,8.4,8.6,8.8,9,9.2,9.4,9.6,9.8,10]}},
     "y": {"field": "v", "type": "quantitative", "scale": {"domain": [-4,4], "nice": false, "zero": false},
      "axis": {"orient": "left", "tickSize": -12, "title": "Voltage (V)", "titleFontSize": 52, "titleX": -140, "titleY": 282, "titleAngle": -90, "titleBaseline": "bottom", "titleAlign": "center", "values": [-4,-3.8,-3.6,-3.4,-3.2,-3,-2.8,-2.6,-2.4,-2.2,-2,-1.8,-1.6,-1.4,-1.2,-1,-0.8,-0.6,-0.4,-0.2,0,0.2,0.4,0.6,0.8,1,1.2,1.4,1.6,1.8,2,2.2,2.4,2.6,2.8,3,3.2,3.4,3.6,3.8,4]}}}},
   {"data": {"name": "curr"}, "mark": {"type": "line", "color": "#1f24ff", "strokeWidth": 2.5, "interpolate": "monotone"},
    "encoding": {"x": {"field": "t", "type": "quantitative", "scale": {"domain": [0,10], "nice": false, "zero": false},
      "axis": {"orient": "bottom", "tickSize": -12, "title": "Time (ms)", "titleFontSize": 55, "titlePadding": 28, "values": [0,0.2,0.4,0.6,0.8,1,1.2,1.4,1.6,1.8,2,2.2,2.4,2.6,2.8,3,3.2,3.4,3.6,3.8,4,4.2,4.4,4.6,4.8,5,5.2,5.4,5.6,5.8,6,6.2,6.4,6.6,6.8,7,7.2,7.4,7.6,7.8,8,8.2,8.4,8.6,8.8,9,9.2,9.4,9.6,9.8,10]}},
     "y": {"field": "v", "type": "quantitative", "scale": {"domain": [-4,4], "nice": false, "zero": false},
      "axis": {"orient": "right", "tickSize": -12, "title": null, "values": [-4,-3.8,-3.6,-3.4,-3.2,-3,-2.8,-2.6,-2.4,-2.2,-2,-1.8,-1.6,-1.4,-1.2,-1,-0.8,-0.6,-0.4,-0.2,0,0.2,0.4,0.6,0.8,1,1.2,1.4,1.6,1.8,2,2.2,2.4,2.6,2.8,3,3.2,3.4,3.6,3.8,4]}}}},
   {"data": {"values": [{}]}, "mark": {"type": "text", "align": "right", "baseline": "middle", "dx": -6, "font": "Liberation Sans", "fontSize": 40, "color": "#ff7a2a", "text": "1->"},
    "encoding": {"x": {"datum": 0, "type": "quantitative", "scale": {"domain": [0,10], "nice": false, "zero": false}, "axis": null},
     "y": {"datum": 2, "type": "quantitative", "scale": {"domain": [-4,4], "nice": false, "zero": false}, "axis": null}}},
   {"data": {"values": [{}]}, "mark": {"type": "rect", "color": "#0000f5"},
    "encoding": {"x": {"datum": -0.409, "type": "quantitative", "scale": {"domain": [0,10], "nice": false, "zero": false}, "axis": null}, "x2": {"datum": -0.007},
     "y": {"datum": -1.894, "type": "quantitative", "scale": {"domain": [-4,4], "nice": false, "zero": false}, "axis": null}, "y2": {"datum": -2.225}}},
   {"data": {"values": [{}]}, "mark": {"type": "text", "align": "center", "baseline": "middle", "font": "Liberation Sans", "fontSize": 40, "color": "#ffffff", "text": "2->"},
    "encoding": {"x": {"datum": -0.208, "type": "quantitative", "scale": {"domain": [0,10], "nice": false, "zero": false}, "axis": null},
     "y": {"datum": -2.06, "type": "quantitative", "scale": {"domain": [-4,4], "nice": false, "zero": false}, "axis": null}}}
  ]
 }
]
}
